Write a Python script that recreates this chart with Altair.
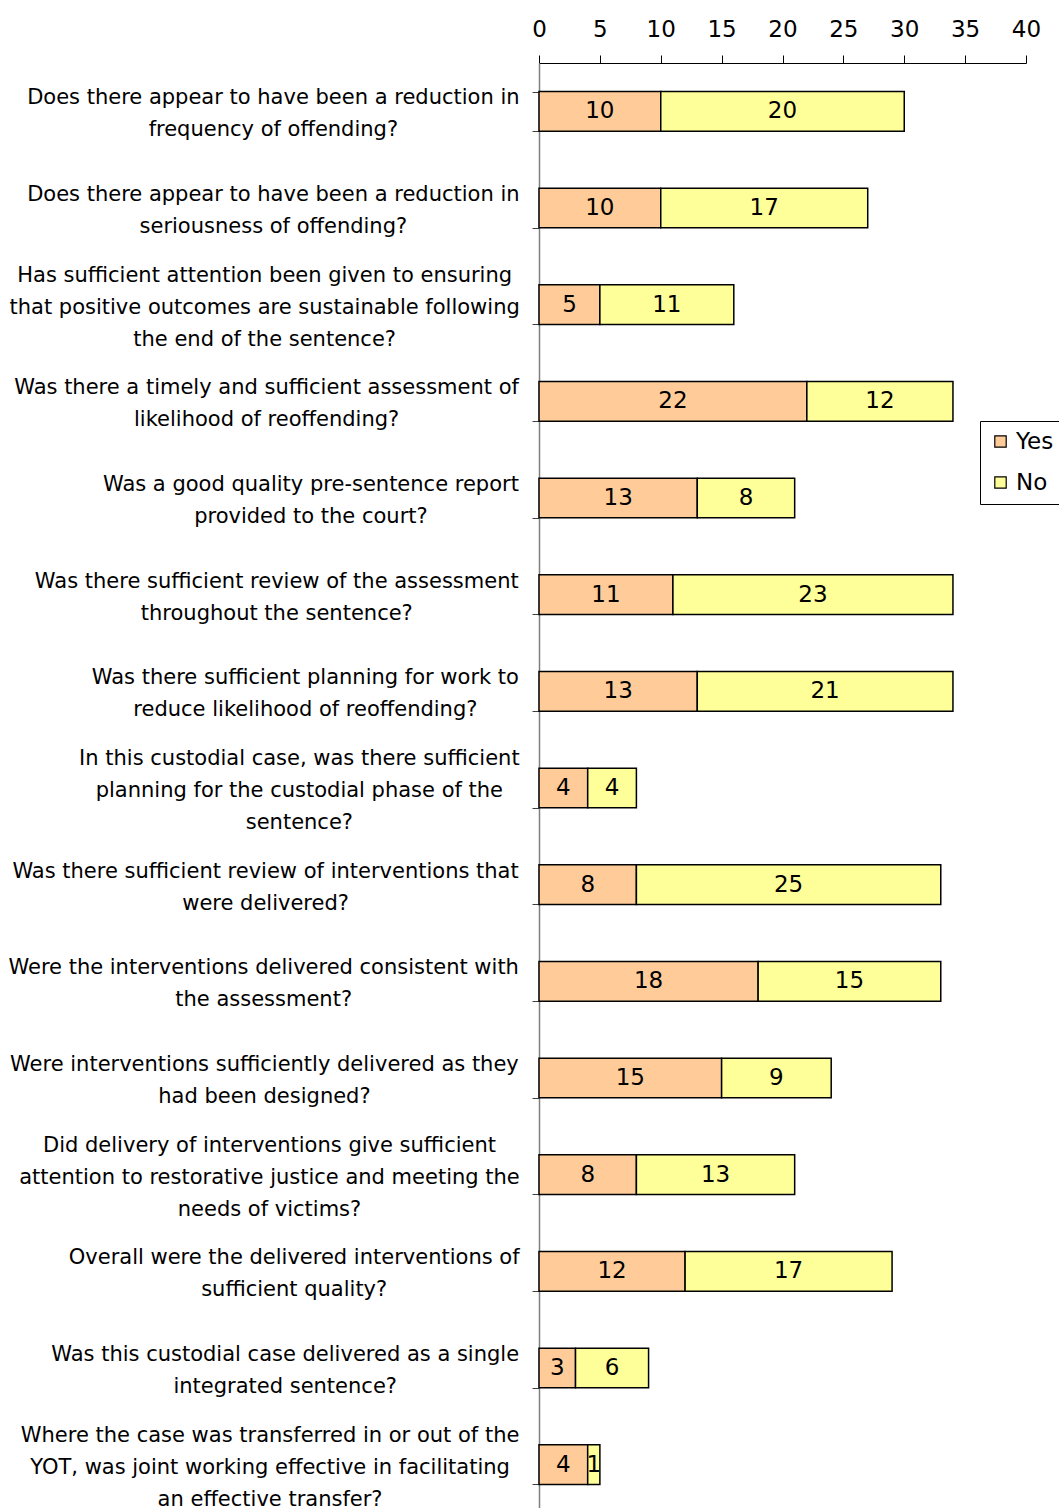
import altair as alt
import pandas as pd

questions = [
    "Does there appear to have been a reduction in|frequency of offending?",
    "Does there appear to have been a reduction in|seriousness of offending?",
    "Has sufficient attention been given to ensuring|that positive outcomes are sustainable following|the end of the sentence?",
    "Was there a timely and sufficient assessment of|likelihood of reoffending?",
    "Was a good quality pre-sentence report|provided to the court?",
    "Was there sufficient review of the assessment|throughout the sentence?",
    "Was there sufficient planning for work to|reduce likelihood of reoffending?",
    "In this custodial case, was there sufficient|planning for the custodial phase of the|sentence?",
    "Was there sufficient review of interventions that|were delivered?",
    "Were the interventions delivered consistent with|the assessment?",
    "Were interventions sufficiently delivered as they|had been designed?",
    "Did delivery of interventions give sufficient|attention to restorative justice and meeting the|needs of victims?",
    "Overall were the delivered interventions of|sufficient quality?",
    "Was this custodial case delivered as a single|integrated sentence?",
    "Where the case was transferred in or out of the|YOT, was joint working effective in facilitating|an effective transfer?",
]
yes_vals = [10, 10, 5, 22, 13, 11, 13, 4, 8, 18, 15, 8, 12, 3, 4]
no_vals = [20, 17, 11, 12, 8, 23, 21, 4, 25, 15, 9, 13, 17, 6, 1]
series = ["Yes", "No"]
colors = ["#FFCC99", "#FFFF99"]
x_ticks = [0, 5, 10, 15, 20, 25, 30, 35, 40]

FONT = "DejaVu Sans"
LABEL_SIZE = 21
LINE_H = 32

# approximate DejaVu Sans advance widths (units per 2048 em)
W = {' ': 651, 'a': 1255, 'b': 1300, 'c': 1126, 'd': 1300, 'e': 1260, 'f': 721, 'g': 1300,
     'h': 1298, 'i': 569, 'j': 569, 'k': 1186, 'l': 569, 'm': 1995, 'n': 1298, 'o': 1253,
     'p': 1300, 'q': 1300, 'r': 842, 's': 1067, 't': 803, 'u': 1298, 'v': 1212, 'w': 1675,
     'x': 1212, 'y': 1212, 'z': 1075, '?': 1087, ',': 651, '-': 739, '.': 651,
     'D': 1577, 'W': 2025, 'H': 1540, 'I': 604, 'O': 1612, 'Y': 1251, 'T': 1251}


def text_w(s):
    return sum(W.get(ch, 1300) for ch in s) / 2048 * LABEL_SIZE


PLOT_W, PLOT_H = 487, 1450
LEFT, TOP = 539, 63
LABEL_RIGHT = 520 - LEFT

rows = []
for q, y, n in zip(questions, yes_vals, no_vals):
    start = 0
    for s, v in zip(series, [y, n]):
        rows.append({"q": q, "series": s, "start": start, "end": start + v,
                     "mid": start + v / 2, "val": v, "ord": series.index(s)})
        start += v
df = pd.DataFrame(rows)

lab = pd.DataFrame({"q": questions})
lab["lx"] = [LABEL_RIGHT - max(text_w(l) for l in q.split("|")) / 2 for q in questions]
lab["nl"] = [len(q.split("|")) for q in questions]

xscale = alt.Scale(domain=[0, 40], nice=False)
yscale = alt.Scale(domain=questions, paddingInner=0.59, paddingOuter=0.295)
yenc = alt.Y("q:N", scale=yscale, sort=None,
             axis=alt.Axis(title=None, labels=False, tickBand="extent", tickSize=7, grid=False,
                           domainColor="#7f7f7f", tickColor="#404040", domainWidth=1.5))

bars = alt.Chart(df).mark_bar(stroke="black", strokeWidth=1.5).encode(
    x=alt.X("start:Q", scale=xscale,
            axis=alt.Axis(orient="top", values=x_ticks, title=None, grid=False,
                          tickSize=8, labelFontSize=23, labelFont=FONT, labelPadding=14,
                          domainColor="black", tickColor="black", labelColor="black",
                          labelFlush=False)),
    x2="end:Q",
    y=yenc,
    color=alt.Color("series:N", scale=alt.Scale(domain=series, range=colors),
                    legend=alt.Legend(title=None, orient="none", legendX=441, legendY=358,
                                      symbolType="square", symbolSize=130,
                                      symbolStrokeColor="black", symbolStrokeWidth=1.2,
                                      labelFontSize=23, labelFont=FONT, labelColor="black",
                                      strokeColor="black", fillColor="white", padding=9,
                                      rowPadding=17, labelOffset=4)),
    order=alt.Order("ord:Q"),
)

vals = alt.Chart(df).mark_text(font=FONT, fontSize=23, color="black", baseline="middle").encode(
    x=alt.X("mid:Q", scale=xscale),
    y=alt.Y("q:N", scale=yscale, sort=None),
    text="val:Q",
)


def label_layer(n):
    return alt.Chart(lab).transform_filter(alt.datum.nl == n).mark_text(
        font=FONT, fontSize=LABEL_SIZE, color="black", align="center",
        baseline="middle", lineBreak="|", lineHeight=LINE_H,
        dy=-(n - 1) * LINE_H / 2 + 3).encode(
        x=alt.X("lx:Q", scale=None),
        y=alt.Y("q:N", scale=yscale, sort=None),
        text="q:N",
    )


chart = alt.layer(bars, vals, label_layer(2), label_layer(3)).properties(
    width=PLOT_W, height=PLOT_H,
    autosize=alt.AutoSizeParams(type="none"),
    padding={"left": LEFT, "top": TOP, "right": 33, "bottom": 10},
).configure(background="white").configure_view(strokeWidth=0).configure_axis(grid=False)

chart.save("out.html", embed_options={"renderer": "svg", "actions": False})
